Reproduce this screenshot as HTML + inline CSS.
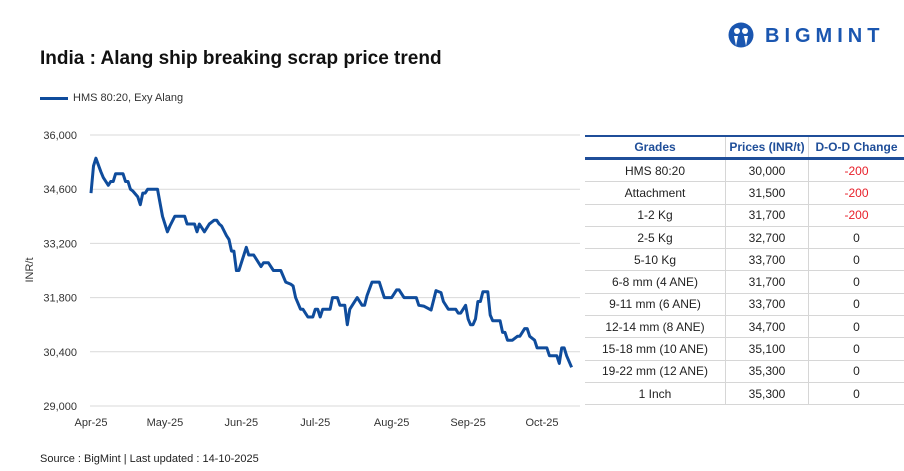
<!DOCTYPE html>
<html><head><meta charset="utf-8"><style>
body{margin:0;background:#fff;font-family:"Liberation Sans",sans-serif;}
#wrap{position:relative;width:904px;height:471px;overflow:hidden;}
.t{position:absolute;white-space:nowrap;}
table{position:absolute;left:585px;top:135px;width:319px;border-collapse:collapse;font-size:12px;color:#222;}
td,th{height:21.3px;padding:0;text-align:center;border-bottom:1px solid #d6d6d6;border-right:1px solid #d6d6d6;}
td:last-child,th:last-child{border-right:none;}
th{color:#1f4e99;font-weight:bold;border-top:2px solid #1f4e99;border-bottom:3px solid #1f4e99;height:20px;}
.neg{color:#e8202a;}
</style></head><body>
<div id="wrap">
<div class="t" style="left:40px;top:48px;font-size:19px;font-weight:bold;color:#111;">India : Alang ship breaking scrap price trend</div>
<div style="position:absolute;left:40px;top:91px;">
<div style="position:absolute;left:0;top:6px;width:28px;height:3px;background:#0f4c9c;"></div>
<div class="t" style="left:33px;top:1px;font-size:11px;color:#333;">HMS 80:20, Exy Alang</div></div>
<div style="position:absolute;left:728px;top:22px;">
<svg width="28" height="28"><circle cx="13" cy="13" r="12.5" fill="#1a56b0"/><circle cx="9" cy="9" r="3" fill="#fff"/><circle cx="17" cy="9" r="3" fill="#fff"/><path d="M6 14 L8 24 L10 14 Z M16 14 L18 24 L20 14 Z" fill="#fff"/></svg>
<div class="t" style="left:37px;top:3px;font-size:20px;font-weight:bold;color:#1a56b0;letter-spacing:5px;">BIGMINT</div></div>
<svg id="chart" width="904" height="471" style="position:absolute;left:0;top:0;"></svg>
<div class="t" style="left:40px;top:453px;font-size:11px;color:#222;">Source : BigMint | Last updated : 14-10-2025</div>
<table>
<tr><th style="width:140px">Grades</th><th style="width:82px">Prices (INR/t)</th><th>D-O-D Change</th></tr>
<tr><td>HMS 80:20</td><td>30,000</td><td class="neg">-200</td></tr>
<tr><td>Attachment</td><td>31,500</td><td class="neg">-200</td></tr>
<tr><td>1-2 Kg</td><td>31,700</td><td class="neg">-200</td></tr>
<tr><td>2-5 Kg</td><td>32,700</td><td>0</td></tr>
<tr><td>5-10 Kg</td><td>33,700</td><td>0</td></tr>
<tr><td>6-8 mm (4 ANE)</td><td>31,700</td><td>0</td></tr>
<tr><td>9-11 mm (6 ANE)</td><td>33,700</td><td>0</td></tr>
<tr><td>12-14 mm (8 ANE)</td><td>34,700</td><td>0</td></tr>
<tr><td>15-18 mm (10 ANE)</td><td>35,100</td><td>0</td></tr>
<tr><td>19-22 mm (12 ANE)</td><td>35,300</td><td>0</td></tr>
<tr><td>1 Inch</td><td>35,300</td><td>0</td></tr>
</table>
</div>
<script>
const yTicks=[29000,30400,31800,33200,34600,36000];
const xTickLabels=["Apr-25","May-25","Jun-25","Jul-25","Aug-25","Sep-25","Oct-25"];
const xTickDays=[0,30,61,91,122,153,183];
const days=[0,1,2,4,5,7,8,9,10,13,14,15,16,17,19,20,21,22,23,27,28,29,31,32,34,38,39,42,43,44,46,48,49,50,51,52,53,55,56,57,58,59,60,63,64,66,69,70,72,74,77,79,81,82,83,85,86,88,90,91,92,93,94,97,98,100,101,103,104,105,108,110,111,112,114,117,119,122,124,125,127,132,133,135,138,140,142,143,145,148,149,150,152,153,154,155,156,157,158,159,161,162,163,166,167,168,169,171,173,174,176,177,178,180,181,185,186,189,190,191,192,193,195];
const prices=[34500,35200,35400,35050,34900,34700,34800,34800,35000,35000,34800,34800,34600,34550,34400,34200,34500,34500,34600,34600,34250,33900,33500,33650,33900,33900,33700,33700,33500,33700,33500,33700,33750,33800,33800,33700,33650,33400,33300,33000,33000,32500,32500,33100,32900,32900,32600,32700,32700,32500,32500,32200,32150,32100,31800,31500,31500,31300,31300,31500,31500,31300,31500,31500,31800,31800,31600,31600,31100,31500,31800,31600,31600,31850,32200,32200,31800,31800,32000,32000,31800,31800,31600,31580,31480,31980,31930,31700,31500,31500,31400,31400,31600,31250,31100,31100,31250,31700,31700,31950,31950,31350,31200,31200,30900,30900,30700,30700,30800,30800,31000,31000,30800,30700,30500,30500,30300,30300,30100,30500,30500,30300,30000];
const NS="http://www.w3.org/2000/svg";
const svg=document.getElementById('chart');
const x=d=>91+d*(542-91)/183;
const y=v=>406-(v-29000)*(406-135)/7000;
function mk(tag,attrs){const e=document.createElementNS(NS,tag);for(const k in attrs)e.setAttribute(k,attrs[k]);svg.appendChild(e);return e;}
yTicks.forEach(v=>{
 const l=mk('line',{x1:90,x2:580,y1:y(v),y2:y(v),stroke:'#d9d9d9','stroke-width':1});
 
 
 const t=mk('text',{x:77,y:y(v)+4,'text-anchor':'end','font-size':11,fill:'#333','font-family':'Liberation Sans, sans-serif'});
 t.textContent=v.toLocaleString('en-US');
 
 
});
xTickLabels.forEach((s,i)=>{
 const t=mk('text',{x:x(xTickDays[i]),y:426,'text-anchor':'middle','font-size':11,fill:'#333','font-family':'Liberation Sans, sans-serif'});
 t.textContent=s;
 
 
});
const yt=mk('text',{x:0,y:0,transform:'translate(33,270) rotate(-90)','text-anchor':'middle','font-size':11,fill:'#333','font-family':'Liberation Sans, sans-serif'});
yt.textContent='INR/t';


const p=mk('polyline',{points:days.map((d,i)=>x(d).toFixed(1)+','+y(prices[i]).toFixed(1)).join(' '),fill:'none',stroke:'#0f4c9c','stroke-width':3,'stroke-linejoin':'round'});


</script>
</body></html>
